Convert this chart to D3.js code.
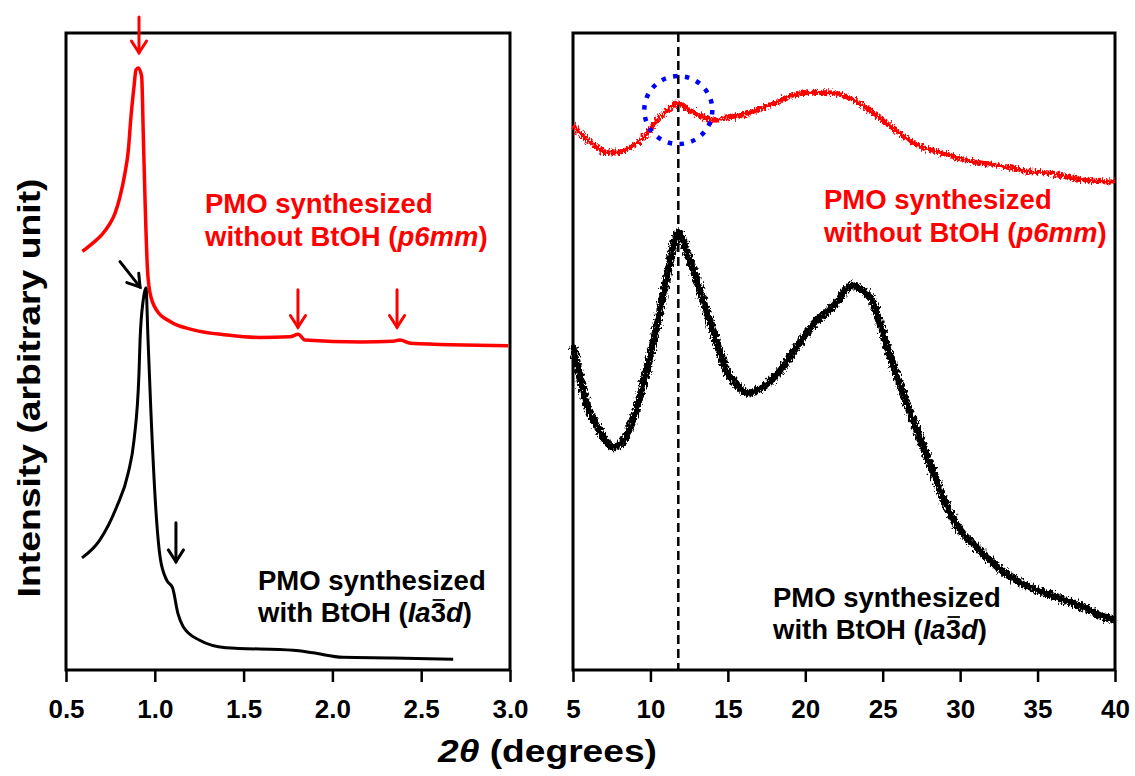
<!DOCTYPE html>
<html>
<head>
  <meta charset="UTF-8">
  <style>
    body {
      margin: 0;
      padding: 0;
      background-color: #ffffff;
    }
    svg {
      display: block;
      background-color: #ffffff;
      font-family: Arial, "Liberation Sans", sans-serif;
    }
    .tick text {
      font-size: 26px;
      font-weight: bold;
      fill: #000;
    }
    .note {
      font-size: 27.5px;
      font-weight: bold;
    }
  </style>
</head>
<body>
  <svg></svg>
  <script src="https://d3js.org/d3.v7.min.js"></script>

  <script>
  // low-angle patterns (2theta, intensity a.u.)
  const lowRed = [[0.592,65.7],[0.654,67.1],[0.701,68.3],[0.748,70.1],[0.776,71.7],[0.804,74.3],[0.832,78.0],
      [0.851,81.6],[0.866,86.9],[0.883,91.6],[0.894,94.2],[0.907,94.5],[0.926,93.2],[0.935,84.3],[0.945,73.8],
      [0.958,63.3],[0.973,59.2],[1.01,56.5],[1.086,54.7],[1.217,53.4],[1.405,52.6],[1.59,52.2],[1.76,52.3],
      [1.808,52.7],[1.845,51.8],[2.16,51.5],[2.34,51.6],[2.38,51.8],[2.44,51.3],[2.99,50.9]];
  const lowBlack = [[0.59,17.6],[0.69,20.4],[0.785,25.6],[0.85,30.9],[0.883,36.1],[0.911,46.6],[0.917,51.8],
      [0.935,58.1],[0.95,60.0],[0.962,51.8],[0.977,41.3],[1.005,25.6],[1.03,17.7],[1.067,14.1],[1.10,12.9],
      [1.13,8.9],[1.16,6.8],[1.25,4.7],[1.40,3.5],[1.78,3.1],[1.89,2.7],[2.06,2.0],[2.34,1.9],[2.68,1.7]];

  // wide-angle patterns
  const wideRed = [[5.0,85.6],[5.7,83.7],[6.4,82.4],[7.1,81.3],[7.9,81.3],[8.76,82.1],[9.7,84.0],[10.4,86.3],
      [11.1,87.9],[11.8,89.0],[12.5,87.9],[13.5,86.7],[14.2,86.3],[15.1,86.8],[16.3,87.4],[17.2,88.2],
      [18.2,89.2],[19.3,90.3],[20.5,90.7],[21.7,90.6],[22.85,89.8],[24.0,88.2],[25.2,85.9],[26.4,83.7],
      [27.55,82.1],[28.7,81.2],[29.9,80.4],[31.1,79.7],[32.25,79.3],[33.4,78.8],[34.6,78.2],[35.8,78.0],
      [36.95,77.4],[38.1,76.9],[40.0,76.6]];
  const wideBlack = [[5.0,51.0],[5.5,45.5],[5.9,41.6],[6.6,38.1],[7.6,35.0],[8.3,36.1],[9.0,40.2],[9.7,46.5],
      [10.4,53.8],[11.1,62.0],[11.8,68.6],[12.5,64.7],[13.5,57.3],[14.2,52.1],[14.9,47.1],[15.6,44.7],
      [16.3,43.5],[17.2,44.3],[18.15,46.3],[19.3,50.2],[20.5,54.2],[21.9,57.3],[23.0,60.4],[23.6,59.7],
      [24.3,58.1],[24.7,55.3],[25.4,49.9],[26.1,44.9],[26.8,40.2],[27.55,35.5],[28.3,30.8],[29.0,26.5],
      [29.9,22.3],[31.1,19.2],[32.25,16.5],[33.4,14.4],[34.6,12.9],[35.8,11.8],[36.95,10.8],[38.1,9.7],
      [39.0,8.6],[40.0,7.8]];

  const lowTicks = [0.5, 1.0, 1.5, 2.0, 2.5, 3.0];
  const wideTicks = [5, 10, 15, 20, 25, 30, 35, 40];

  // arrows: [x1, y1, x2, y2] in data units, tip at (x2, y2)
  const redArrows = [[0.911,102.5,0.911,96.9],[1.806,59.7,1.806,53.8],[2.364,59.7,2.364,53.8]];
  const blackArrows = [[0.804,64.1,0.917,60.1],[1.119,23.1,1.119,17.0]];

  const peakLine = 11.8;

  let width = 1135, height = 776;

  let svg = d3.select("svg")
      .attr("width", width)
      .attr("height", height);

  const xLow = d3.scaleLinear().domain([0.5, 3.0]).range([66, 510]);
  const xWide = d3.scaleLinear().domain([5, 40]).range([573, 1115]);
  const y = d3.scaleLinear().domain([0, 100]).range([670, 33]);

  const defs = svg.append("defs");
  const noise = defs.append("filter")
      .attr("id", "noisy")
      .attr("filterUnits", "userSpaceOnUse")
      .attr("x", 560).attr("y", 20).attr("width", 580).attr("height", 680);
  noise.append("feTurbulence")
      .attr("type", "fractalNoise")
      .attr("baseFrequency", "0.6 0.3")
      .attr("numOctaves", 2)
      .attr("seed", 4)
      .attr("result", "n");
  noise.append("feDisplacementMap")
      .attr("in", "SourceGraphic")
      .attr("in2", "n")
      .attr("scale", 9)
      .attr("xChannelSelector", "R")
      .attr("yChannelSelector", "G");

  // axes
  const axLow = svg.append("g")
      .attr("transform", "translate(0,670)")
      .call(d3.axisBottom(xLow).tickValues(lowTicks).tickFormat(d3.format(".1f"))
          .tickSize(12).tickSizeOuter(0).tickPadding(18));
  const axWide = svg.append("g")
      .attr("transform", "translate(0,670)")
      .call(d3.axisBottom(xWide).tickValues(wideTicks).tickFormat(d3.format("d"))
          .tickSize(12).tickSizeOuter(0).tickPadding(18));
  [axLow, axWide].forEach(a => {
      a.select(".domain").remove();
      a.selectAll(".tick line").attr("stroke", "#000").attr("stroke-width", 2.5);
      a.selectAll(".tick text").attr("font-family", null).attr("font-size", null);
  });

  // frames
  [xLow, xWide].forEach(sx => {
      svg.append("rect")
          .attr("x", sx.range()[0])
          .attr("y", y(100))
          .attr("width", sx.range()[1] - sx.range()[0])
          .attr("height", y(0) - y(100))
          .attr("fill", "none")
          .attr("stroke", "#000")
          .attr("stroke-width", 3);
  });

  // dashed marker line
  svg.append("line")
      .attr("x1", xWide(peakLine)).attr("x2", xWide(peakLine))
      .attr("y1", y(100)).attr("y2", y(0))
      .attr("stroke", "#000")
      .attr("stroke-width", 2.5)
      .attr("stroke-dasharray", "9 5");

  const lineLow = d3.line().x(d => xLow(d[0])).y(d => y(d[1])).curve(d3.curveMonotoneX);
  const lineWide = d3.line().x(d => xWide(d[0])).y(d => y(d[1])).curve(d3.curveMonotoneX);

  svg.append("path").attr("d", lineLow(lowRed))
      .attr("fill", "none").attr("stroke", "#ff0000").attr("stroke-width", 3.5)
      .attr("stroke-linejoin", "round");
  svg.append("path").attr("d", lineLow(lowBlack))
      .attr("fill", "none").attr("stroke", "#000").attr("stroke-width", 3)
      .attr("stroke-linejoin", "round");

  svg.append("path").attr("d", lineWide(wideRed))
      .attr("fill", "none").attr("stroke", "#ff0000").attr("stroke-width", 5)
      .attr("filter", "url(#noisy)");
  svg.append("path").attr("d", lineWide(wideBlack))
      .attr("fill", "none").attr("stroke", "#000").attr("stroke-width", 7.5)
      .attr("filter", "url(#noisy)");

  // dotted circle round the small red peak
  svg.append("circle")
      .attr("cx", xWide(peakLine))
      .attr("cy", y(87.9))
      .attr("r", 34)
      .attr("fill", "none")
      .attr("stroke", "#0000ff")
      .attr("stroke-width", 4.5)
      .attr("stroke-dasharray", "4.5 7.4");

  // arrows
  function arrow(a, color, w) {
      let x1 = xLow(a[0]), y1 = y(a[1]), x2 = xLow(a[2]), y2 = y(a[3]);
      let ang = Math.atan2(y2 - y1, x2 - x1);
      let len = 14, spread = Math.PI / 5.5;
      let g = svg.append("g").attr("stroke", color).attr("stroke-width", w)
          .attr("fill", "none").attr("stroke-linecap", "round");
      g.append("line").attr("x1", x1).attr("y1", y1).attr("x2", x2).attr("y2", y2);
      g.append("path").attr("d",
          "M" + (x2 - len * Math.cos(ang - spread)) + "," + (y2 - len * Math.sin(ang - spread)) +
          "L" + x2 + "," + y2 +
          "L" + (x2 - len * Math.cos(ang + spread)) + "," + (y2 - len * Math.sin(ang + spread)));
  }
  redArrows.forEach(a => arrow(a, "#ff0000", 3));
  blackArrows.forEach(a => arrow(a, "#000", 3));

  // sample labels
  function redNote(x, y0) {
      svg.append("text").attr("class", "note").attr("fill", "#ff0000")
          .attr("x", x).attr("y", y0).text("PMO synthesized");
      let t2 = svg.append("text").attr("class", "note").attr("fill", "#ff0000")
          .attr("x", x).attr("y", y0 + 33);
      t2.append("tspan").text("without BtOH (");
      t2.append("tspan").attr("font-style", "italic").text("p6mm");
      t2.append("tspan").text(")");
  }
  function blackNote(x, y0) {
      svg.append("text").attr("class", "note").attr("fill", "#000")
          .attr("x", x).attr("y", y0).text("PMO synthesized");
      let t2 = svg.append("text").attr("class", "note").attr("fill", "#000")
          .attr("x", x).attr("y", y0 + 32);
      t2.append("tspan").text("with BtOH (");
      t2.append("tspan").attr("font-style", "italic").text("Ia");
      t2.append("tspan").text("3");
      t2.append("tspan").attr("font-style", "italic").text("d");
      t2.append("tspan").text(")");
      // bar over the 3
      let box = t2.node().getExtentOfChar(13);
      svg.append("line")
          .attr("x1", box.x + 2).attr("x2", box.x + box.width - 1)
          .attr("y1", y0 + 32 - 22).attr("y2", y0 + 32 - 22)
          .attr("stroke", "#000").attr("stroke-width", 1.8);
  }
  redNote(205, 213);
  redNote(824, 209);
  blackNote(258, 590);
  blackNote(773, 607);

  // axis titles
  let xt = svg.append("text")
      .attr("x", 438).attr("y", 762)
      .attr("font-size", 31).attr("font-weight", "bold")
      .attr("textLength", 219).attr("lengthAdjust", "spacingAndGlyphs");
  xt.append("tspan").attr("font-style", "italic").text("2θ");
  xt.append("tspan").text(" (degrees)");

  svg.append("text")
      .attr("transform", "translate(40,388) rotate(-90)")
      .attr("text-anchor", "middle")
      .attr("font-size", 32).attr("font-weight", "bold")
      .attr("textLength", 419).attr("lengthAdjust", "spacingAndGlyphs")
      .text("Intensity (arbitrary unit)");
  </script>

</body>
</html>
